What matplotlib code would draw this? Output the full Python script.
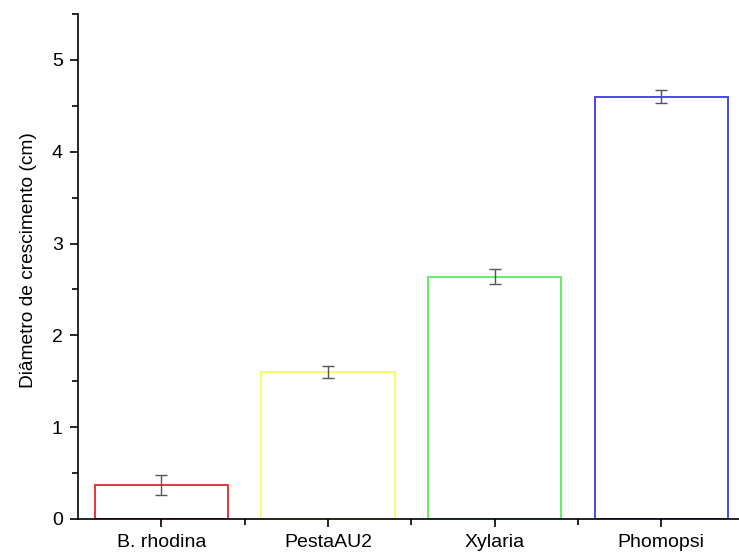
import matplotlib
matplotlib.use('Agg')
from matplotlib import pyplot as plt
from matplotlib.ticker import MultipleLocator, FixedLocator

# growth diameter per fungus isolate
fungi = ['B. rhodina', 'PestaAU2', 'Xylaria', 'Phomopsi']
diametro = [0.37, 1.60, 2.64, 4.60]
erro = [0.11, 0.07, 0.08, 0.07]
cores = ['#e8343c', '#fafa6a', '#66ee66', '#4a4ae6']

plt.rcParams['font.family'] = ['Liberation Sans', 'DejaVu Sans']

fig = plt.figure(figsize=(7.39, 5.59), dpi=100)
ax = fig.add_axes([0.1055, 0.0716, 0.8945, 0.9034])

pos = list(range(1, len(fungi) + 1))
ax.bar(pos, diametro, width=0.8, facecolor='white', edgecolor=cores, linewidth=1.4)
ax.errorbar(pos, diametro, yerr=erro, fmt='none', ecolor='#555555',
            elinewidth=1.0, capsize=4, capthick=1.0)

ax.set_xlim(0.5, 4.466)
ax.set_ylim(0, 5.5)
ax.set_xticks(pos)
ax.set_xticklabels(fungi, fontsize=14)
ax.xaxis.set_minor_locator(FixedLocator([1.5, 2.5, 3.5]))
ax.yaxis.set_major_locator(MultipleLocator(1))
ax.yaxis.set_minor_locator(MultipleLocator(0.5))
ax.tick_params(which='major', direction='out', length=6, width=1.2, labelsize=14, pad=5)
ax.tick_params(which='minor', direction='out', length=4, width=1.2)
ax.set_ylabel('Diâmetro de crescimento (cm)', fontsize=13.8)
ax.yaxis.set_label_coords(-0.062, 0.513)

ax.spines['top'].set_visible(False)
ax.spines['right'].set_visible(False)
for s in ['left', 'bottom']:
    ax.spines[s].set_linewidth(1.2)

fig.savefig('out.png', dpi=100)
